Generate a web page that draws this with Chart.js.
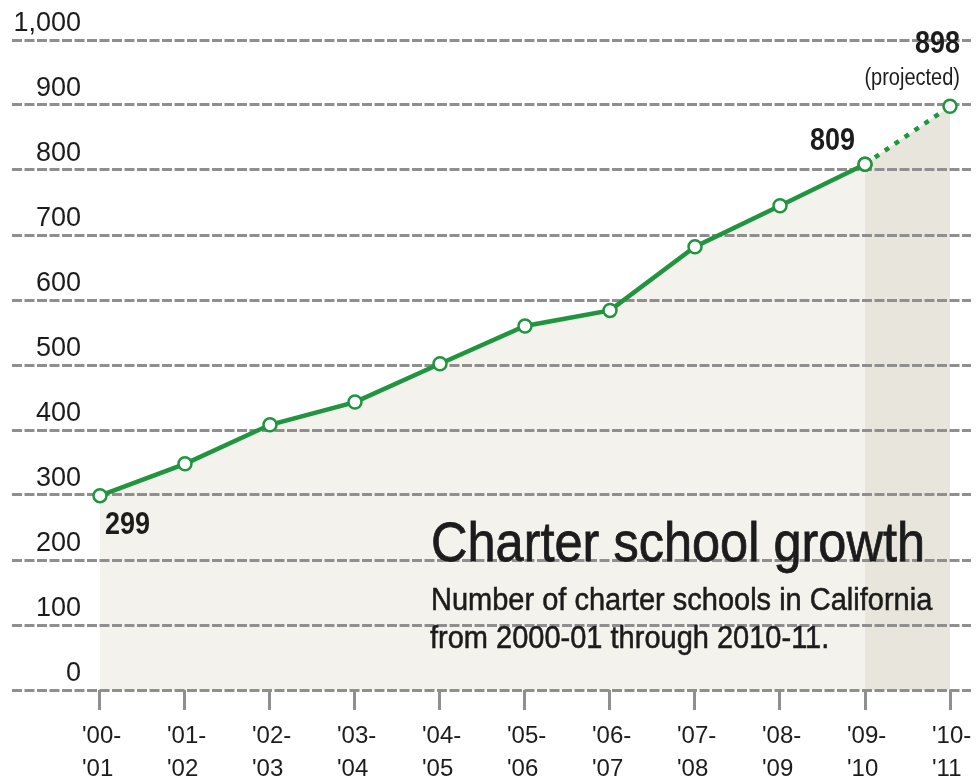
<!DOCTYPE html>
<html>
<head>
<meta charset="utf-8">
<script src="https://cdn.jsdelivr.net/npm/chart.js@4.4.1/dist/chart.umd.min.js"></script>
<style>
  html, body { margin: 0; padding: 0; background: #ffffff; }
  #wrap { position: relative; width: 980px; height: 781px; }
</style>
</head>
<body>
<div id="wrap"><canvas id="chart"></canvas></div>
<script>
// ---- data ----
const seasonStart = ["'00-", "'01-", "'02-", "'03-", "'04-", "'05-", "'06-", "'07-", "'08-", "'09-", "'10-"];
const seasonEnd   = ["'01", "'02", "'03", "'04", "'05", "'06", "'07", "'08", "'09", "'10", "'11"];
const schoolCounts = [299, 348, 408, 443, 502, 560, 584, 682, 745, 809, 898];
const projectedFrom = 9;           // segment from this index onward is projected
const yTickValues = [0, 100, 200, 300, 400, 500, 600, 700, 800, 900, 1000];
const yTickLabels = ['0', '100', '200', '300', '400', '500', '600', '700', '800', '900', '1,000'];
const titleText = 'Charter school growth';
const subtitleLines = ['Number of charter schools in California', 'from 2000-01 through 2010-11.'];
const projectedNote = '(projected)';

// ---- styles ----
const GREEN = '#21943f';
const FILL = '#f3f2ed';
const FILL_PROJ = '#e8e6dc';
const GRID = '#8f8f8f';
const INK = '#1c1c1c';
const FONT = "'Liberation Sans', Arial, Helvetica, sans-serif";

const actualPoints = schoolCounts.slice(0, projectedFrom + 1).map((v, i) => ({ x: i, y: v }));
const projectedPoints = schoolCounts.slice(projectedFrom).map((v, i) => ({ x: i + projectedFrom, y: v }));

function stretchedText(ctx, text, x, y, align, font, sy, stroke) {
  ctx.save();
  ctx.font = font;
  ctx.textAlign = align;
  ctx.textBaseline = 'alphabetic';
  ctx.translate(x, y);
  ctx.scale(1, sy);
  ctx.fillText(text, 0, 0);
  if (stroke) {
    ctx.lineWidth = stroke;
    ctx.strokeStyle = ctx.fillStyle;
    ctx.strokeText(text, 0, 0);
  }
  ctx.restore();
}

const annotations = {
  id: 'annotations',
  afterDraw(chart) {
    const { ctx, scales: { x, y } } = chart;
    ctx.save();
    ctx.fillStyle = INK;
    const last = schoolCounts.length - 1;
    const numFont = 'bold 27px ' + FONT;
    // first value
    stretchedText(ctx, String(schoolCounts[0]),
      x.getPixelForValue(0) + 5, y.getPixelForValue(schoolCounts[0]) + 38, 'left', numFont, 1.15);
    // last actual value
    stretchedText(ctx, String(schoolCounts[projectedFrom]),
      x.getPixelForValue(projectedFrom) - 10, y.getPixelForValue(schoolCounts[projectedFrom]) - 14, 'right', numFont, 1.15);
    // projected value
    stretchedText(ctx, String(schoolCounts[last]),
      x.getPixelForValue(last) + 10, y.getPixelForValue(schoolCounts[last]) - 53, 'right', numFont, 1.15);
    stretchedText(ctx, projectedNote,
      x.getPixelForValue(last) + 10, y.getPixelForValue(schoolCounts[last]) - 21, 'right', '20px ' + FONT, 1.15);
    // title block
    stretchedText(ctx, titleText, 431, 561, 'left', '50.5px ' + FONT, 1.1, 0.7);
    stretchedText(ctx, subtitleLines[0], 431, 610, 'left', '29px ' + FONT, 1.1, 0.5);
    stretchedText(ctx, subtitleLines[1], 430, 648, 'left', '29px ' + FONT, 1.1, 0.5);
    ctx.restore();
  }
};

new Chart(document.getElementById('chart'), {
  type: 'line',
  data: {
    datasets: [
      {
        label: 'Charter schools',
        data: actualPoints,
        borderColor: GREEN,
        borderWidth: 4.5,
        backgroundColor: FILL,
        fill: 'origin',
        tension: 0,
        pointRadius: 6.5,
        pointBorderWidth: 2.5,
        pointBorderColor: GREEN,
        pointBackgroundColor: '#ffffff'
      },
      {
        label: 'Projected',
        data: projectedPoints,
        borderColor: GREEN,
        borderWidth: 4.5,
        borderDash: [5, 7],
        backgroundColor: FILL_PROJ,
        fill: 'origin',
        tension: 0,
        pointRadius: 6.5,
        pointBorderWidth: 2.5,
        pointBorderColor: GREEN,
        pointBackgroundColor: '#ffffff'
      }
    ]
  },
  options: {
    responsive: true,
    maintainAspectRatio: false,
    animation: false,
    layout: { padding: { top: 40, right: 0.5, bottom: 0, left: 12 } },
    plugins: {
      legend: { display: false },
      tooltip: { enabled: false },
      filler: { drawTime: 'beforeDraw' }
    },
    scales: {
      x: {
        type: 'linear',
        min: -1.035,
        max: 10.247,
        afterBuildTicks: (scale) => { scale.ticks = seasonStart.map((_, i) => ({ value: i })); },
        afterFit: (scale) => {
          scale.height = 91;
          scale.paddingLeft = 0; scale.paddingRight = 0;
        },
        border: { display: false },
        grid: {
          drawOnChartArea: false,
          drawTicks: true,
          tickLength: 20,
          tickWidth: 3,
          tickColor: GRID
        },
        ticks: {
          align: 'start',
          labelOffset: -18,
          padding: 9.5,
          maxRotation: 0,
          autoSkip: false,
          color: INK,
          font: { family: FONT, size: 24, lineHeight: 1.375 },
          callback: (value, index) => [seasonStart[index], seasonEnd[index]]
        }
      },
      y: {
        min: 0,
        max: 1000,
        afterBuildTicks: (scale) => { scale.ticks = yTickValues.map(v => ({ value: v })); },
        afterFit: (scale) => {
          scale.width = 0;
          scale.paddingTop = 0; scale.paddingBottom = 0;
        },
        border: { display: false, dash: [10, 2.5] },
        grid: {
          color: GRID,
          lineWidth: 3,
          drawTicks: false
        },
        ticks: {
          mirror: true,
          crossAlign: 'far',
          padding: 1.5,
          labelOffset: -16,
          color: INK,
          font: { family: FONT, size: 27 },
          callback: (value, index) => yTickLabels[index]
        }
      }
    }
  },
  plugins: [annotations]
});
</script>
</body>
</html>
